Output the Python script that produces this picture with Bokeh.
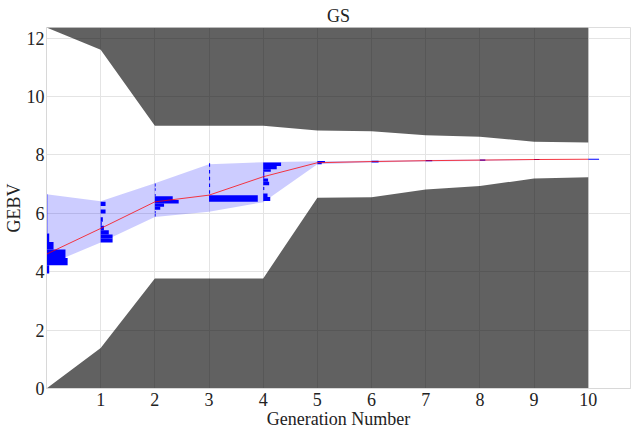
from bokeh.plotting import figure
from bokeh.models import Range1d, FixedTicker
from bokeh.embed import file_html
from bokeh.resources import INLINE

# ---- data ----
generations = [0, 1, 2, 3, 4, 5, 6, 7, 8, 9, 10]
upper_limit = [12.36, 11.6, 9.0, 9.0, 9.0, 8.83, 8.81, 8.67, 8.62, 8.45, 8.42]
lower_limit = [0.0, 1.39, 3.77, 3.77, 3.77, 6.53, 6.55, 6.81, 6.93, 7.19, 7.23]
mean_gebv = [4.60, 5.48, 6.39, 6.62, 7.25, 7.73, 7.77, 7.80, 7.82, 7.84, 7.85]
band_upper = [6.65, 6.41, 7.03, 7.68, 7.75, 7.78, 7.80, 7.82, 7.84, 7.85, 7.86]
band_lower = [4.22, 5.00, 5.87, 6.05, 6.38, 7.68, 7.74, 7.77, 7.79, 7.82, 7.84]
Y_MAX = 12.36

# histogram bins per generation (bin bottom, bin top, relative length)
hist_gen = [0, 0, 0, 0, 0, 0, 0, 0, 0, 0,
            1, 1, 1, 1, 1, 1, 1, 1,
            2, 2, 2, 2, 2, 2, 2, 2, 2,
            3, 3, 3, 3, 3, 3,
            4, 4, 4, 4, 4, 4, 4, 4, 4, 4,
            5, 5, 6, 7, 8, 9, 10]
hist_lo = [3.94, 4.22, 4.47, 4.76, 5.02, 5.31, 5.59, 5.87, 6.15, 6.43,
           5.00, 5.14, 5.27, 5.42, 5.57, 5.71, 5.99, 6.25,
           5.89, 6.00, 6.12, 6.22, 6.33, 6.45, 6.58, 6.77, 6.92,
           6.39, 6.67, 6.90, 7.13, 7.36, 7.59,
           6.42, 6.56, 6.80, 6.96, 7.08, 7.19, 7.30, 7.42, 7.51, 7.62,
           7.68, 7.74, 7.74, 7.78, 7.80, 7.82, 7.83]
hist_hi = [4.22, 4.47, 4.76, 5.02, 5.31, 5.59, 5.87, 6.15, 6.43, 6.65,
           5.14, 5.27, 5.42, 5.57, 5.71, 5.86, 6.13, 6.39,
           5.98, 6.08, 6.22, 6.33, 6.45, 6.58, 6.66, 6.86, 7.02,
           6.62, 6.79, 7.02, 7.25, 7.48, 7.71,
           6.56, 6.68, 6.90, 7.08, 7.19, 7.30, 7.42, 7.51, 7.62, 7.74,
           7.74, 7.79, 7.80, 7.82, 7.84, 7.86, 7.87]
hist_len = [0.05, 0.39, 0.35, 0.13, 0.05, 0.015, 0.015, 0.015, 0.015, 0.015,
            0.22, 0.22, 0.15, 0.06, 0.02, 0.04, 0.09, 0.09,
            0.015, 0.015, 0.10, 0.17, 0.44, 0.33, 0.015, 0.015, 0.015,
            0.90, 0.02, 0.02, 0.02, 0.02, 0.02,
            0.13, 0.08, 0.02, 0.11, 0.09, 0.02, 0.02, 0.14, 0.25, 0.33,
            0.08, 0.14, 0.13, 0.12, 0.10, 0.10, 0.20]

x_ticks = [1, 2, 3, 4, 5, 6, 7, 8, 9, 10]
y_ticks = [0, 2, 4, 6, 8, 10, 12]

FONT = "Liberation Serif"
FS = "18px"

p = figure(width=632, height=431,
           x_range=Range1d(0, 10.78), y_range=Range1d(0, Y_MAX),
           output_backend="svg", toolbar_location=None,
           min_border_left=0, min_border_right=2,
           min_border_top=27, min_border_bottom=43)

p.title.text = "GS"
p.title.align = "center"
p.title.offset = 6
p.title.text_font = FONT
p.title.text_font_style = "normal"
p.title.text_font_size = FS
p.title.text_color = "#222222"
p.title.standoff = 4

# gray infeasible regions
p.varea(x=generations, y1=upper_limit, y2=[Y_MAX] * len(generations),
        fill_color="black", fill_alpha=0.62)
p.varea(x=generations, y1=[0] * len(generations), y2=lower_limit,
        fill_color="black", fill_alpha=0.62)

# population band
p.varea(x=generations, y1=band_lower, y2=band_upper,
        fill_color="blue", fill_alpha=0.2)

# histograms
right = [g + l for g, l in zip(hist_gen, hist_len)]
p.quad(left=hist_gen, right=right, bottom=hist_lo, top=hist_hi,
       fill_color="blue", line_color=None)

# mean line
p.line(generations, mean_gebv, line_color="red", line_alpha=0.75, line_width=1)

p.xaxis.ticker = FixedTicker(ticks=x_ticks)
p.yaxis.ticker = FixedTicker(ticks=y_ticks)
p.yaxis.axis_label = "GEBV"
p.xaxis.axis_label = "Generation Number"
for ax in (p.xaxis[0], p.yaxis[0]):
    ax.major_label_text_font = FONT
    ax.major_label_text_font_size = FS
    ax.major_label_text_color = "#222222"
    ax.axis_label_text_font = FONT
    ax.axis_label_text_font_style = "normal"
    ax.axis_label_text_font_size = FS
    ax.axis_label_text_color = "#222222"
    ax.axis_line_color = "#d8d8d8"
    ax.major_tick_line_color = None
    ax.minor_tick_line_color = None
    ax.major_tick_out = 0
    ax.major_tick_in = 0
    ax.major_label_standoff = 2
    ax.axis_label_standoff = 0
p.xaxis.major_label_standoff = 4
p.xgrid.grid_line_color = "#e4e4e4"
p.ygrid.grid_line_color = "#e4e4e4"
p.outline_line_color = "#dddddd"

open("out.html", "w").write(file_html(p, INLINE))
